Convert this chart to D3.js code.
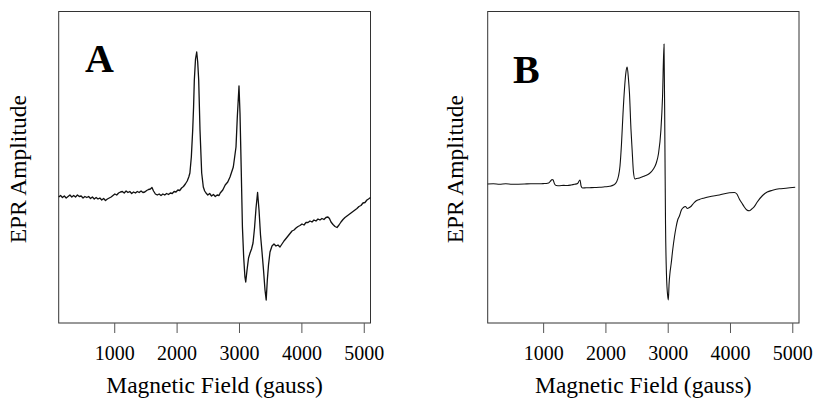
<!DOCTYPE html>
<html>
<head>
<meta charset="utf-8">
<script src="https://cdn.jsdelivr.net/npm/d3@7"></script>
<style>
  html, body { margin: 0; padding: 0; background: #fff; }
  svg { display: block; }
  svg text { font-family: "Liberation Serif", "DejaVu Serif", serif; }
</style>
</head>
<body>
<svg id="chart" width="814" height="398"></svg>
<script>
// ---- data (field in gauss, amplitude in arbitrary units) ----
const fieldTicks = [1000, 2000, 3000, 4000, 5000];
const xLabel = "Magnetic Field (gauss)";
const yLabel = "EPR Amplitude";
const panelNames = ["A", "B"];

const spectrumA = [
  [110,0],[140,1.5],[170,-0.5],[200,1],[230,-1],[260,0.5],[290,2],[320,0],[350,1.5],[380,0],
  [410,2],[440,0.5],[470,1],[500,-1],[530,0.5],[560,-0.5],[590,0.5],[620,-1.5],[650,0],[680,-2],
  [710,-0.5],[740,-2],[770,-1],[800,-3],[830,-1.5],[860,-3.5],[890,-2],[920,-1],[950,0],[980,1.5],
  [1010,3],[1040,2],[1070,4],[1100,5],[1130,5.5],[1160,4],[1190,6],[1220,4.5],[1250,5.5],[1280,3.5],
  [1310,5],[1340,4],[1370,5.5],[1400,4.5],[1430,6],[1460,4.5],[1490,5],[1520,6.5],[1550,7.5],[1580,8],
  [1605,9.5],[1630,6],[1660,3],[1690,2],[1720,3],[1750,1.5],[1780,3],[1810,2],[1840,3.5],[1870,2.5],
  [1900,4],[1930,3.5],[1960,5.5],[1990,5],[2020,7],[2050,6.5],[2080,9],[2110,10.5],[2140,13],[2170,16],
  [2195,20],[2213,24],[2236,40],[2258,67],[2272,90],[2284,117],[2303,138],[2322,145],[2338,135],[2354,117],
  [2375,67],[2402,24],[2428,10],[2450,6],[2471,4],[2500,2],[2530,3.5],[2560,1],[2590,2.5],[2620,0.5],
  [2650,2],[2680,1.5],[2699,4],[2740,7],[2779,12],[2820,15],[2856,20],[2909,30],[2952,50],[2973,80],
  [3000,111],[3016,84],[3035,30],[3055,-30],[3075,-60],[3095,-80],[3108,-85],[3129,-73],[3153,-61],[3177,-56],
  [3201,-52],[3225,-46],[3249,-31],[3273,-11],[3298,4.5],[3321,-13],[3345,-38],[3369,-55],[3393,-73],[3417,-93],
  [3436,-103],[3454,-83],[3473,-68],[3497,-55],[3529,-49],[3561,-47],[3593,-49],[3625,-48],[3657,-50],[3689,-47],
  [3721,-44],[3754,-41.5],[3786,-39],[3818,-36.5],[3850,-34],[3882,-33],[3914,-31],[3946,-29.5],[3978,-28.5],[4010,-27],
  [4042,-28],[4074,-25.5],[4106,-25.5],[4138,-24],[4170,-25],[4202,-23],[4234,-24],[4266,-22],[4298,-23],[4330,-21.5],
  [4362,-22.5],[4394,-20.5],[4426,-20],[4450,-21.5],[4475,-25],[4507,-27.5],[4539,-29.5],[4571,-30.5],[4603,-28],[4635,-25],
  [4667,-22.5],[4699,-20.5],[4731,-19],[4763,-17.5],[4795,-16],[4827,-14.5],[4859,-13],[4891,-11.5],[4923,-9.5],[4955,-8.5],
  [4987,-6],[5019,-5.5],[5051,-3],[5076,-2],[5108,-0.5]
];

const spectrumB = [
  [110,0],[200,0.3],[300,-0.2],[400,0.2],[500,-0.3],[600,-0.2],[700,0],[800,0.3],[900,0.2],[1000,0.4],
  [1051,0.5],[1088,1],[1120,3],[1144,4.5],[1160,4],[1184,0],[1211,-1.5],[1264,-1.7],[1330,-1.4],[1392,-1.5],
  [1450,-1],[1505,-0.3],[1553,0.5],[1577,3],[1593,4],[1609,-2],[1633,-4],[1690,-3.8],[1745,-3.7],[1830,-3.5],
  [1905,-3.3],[1990,-2.8],[2066,-2.3],[2130,-1],[2178,2],[2210,8],[2234,18],[2258,40],[2282,70],[2306,95],
  [2330,112],[2349,117],[2370,105],[2386,91],[2410,55],[2429,34],[2450,12],[2474,5],[2498,5.5],[2546,6],
  [2627,8],[2707,10.5],[2771,15],[2814,20.5],[2851,30],[2891,54],[2917,87],[2941,140],[2955,40],[2965,-40],
  [2980,-90],[3000,-112],[3010,-116],[3022,-100],[3038,-88],[3055,-80],[3080,-66],[3108,-53],[3135,-43],[3160,-36],
  [3188,-32],[3220,-26],[3252,-23.5],[3284,-22.5],[3316,-24.5],[3348,-23.5],[3380,-22],[3412,-19.5],[3444,-17.5],[3508,-15.5],
  [3588,-14],[3669,-12.7],[3829,-11],[3990,-8.7],[4070,-8.5],[4110,-10],[4150,-15],[4190,-19],[4230,-23],[4270,-26],
  [4310,-26.8],[4350,-25],[4390,-22.7],[4438,-18],[4523,-11.5],[4598,-8],[4683,-6.3],[4791,-4.8],[4898,-4.3],[5047,-3.3]
];

const fieldDomain = [110, 5108];
const ampDomainA = [-126, 185.5];
const ampDomainB = [-139, 172.5];

// ---- layout ----
const svg = d3.select("#chart");
const serif = '"Liberation Serif", "DejaVu Serif", serif';
const plotTop = 11.5, plotBottom = 323;

const panels = [
  { name: panelNames[0], data: spectrumA, yDom: ampDomainA, left: 58.7, right: 370.5,
    letterX: 85, letterY: 72, yLabX: 26, curve: d3.curveLinear, sw: 1.3 },
  { name: panelNames[1], data: spectrumB, yDom: ampDomainB, left: 487.7, right: 799,
    letterX: 513, letterY: 83, yLabX: 463, curve: d3.curveMonotoneX, sw: 1.1 }
];

panels.forEach(p => {
  const x = d3.scaleLinear().domain(fieldDomain).range([p.left, p.right]);
  const y = d3.scaleLinear().domain(p.yDom).range([plotBottom, plotTop]);
  const g = svg.append("g");

  // frame
  g.append("rect")
    .attr("x", p.left).attr("y", plotTop)
    .attr("width", p.right - p.left).attr("height", plotBottom - plotTop)
    .attr("fill", "none").attr("stroke", "#333").attr("stroke-width", 1);

  // x axis
  const ax = g.append("g").attr("transform", `translate(0,${plotBottom})`)
    .call(d3.axisBottom(x).tickValues(fieldTicks).tickSize(10).tickPadding(13).tickFormat(d3.format("d")));
  ax.attr("font-family", null);
  ax.select(".domain").remove();
  ax.selectAll(".tick line").attr("stroke", "#555");
  ax.selectAll(".tick text").style("font-family", serif).style("font-size", "20px").attr("fill", "#000");

  // trace
  const line = d3.line().x(d => x(d[0])).y(d => y(d[1])).curve(p.curve);
  g.append("path").datum(p.data)
    .attr("d", line).attr("fill", "none")
    .attr("stroke", "#111").attr("stroke-width", p.sw).attr("stroke-linejoin", "round");

  // panel letter
  g.append("text").attr("x", p.letterX).attr("y", p.letterY)
    .style("font-family", serif).style("font-weight", "bold").style("font-size", "40px")
    .attr("fill", "#000").text(p.name);

  // x label
  g.append("text").attr("x", (p.left + p.right) / 2).attr("y", 393)
    .attr("text-anchor", "middle").style("font-family", serif).style("font-size", "23.5px")
    .attr("fill", "#000").text(xLabel);

  // y label
  g.append("text")
    .attr("transform", `translate(${p.yLabX},${(plotTop + plotBottom) / 2 + 2}) rotate(-90)`)
    .attr("text-anchor", "middle").style("font-family", serif).style("font-size", "23.5px")
    .attr("fill", "#000").text(yLabel);
});
</script>
</body>
</html>
